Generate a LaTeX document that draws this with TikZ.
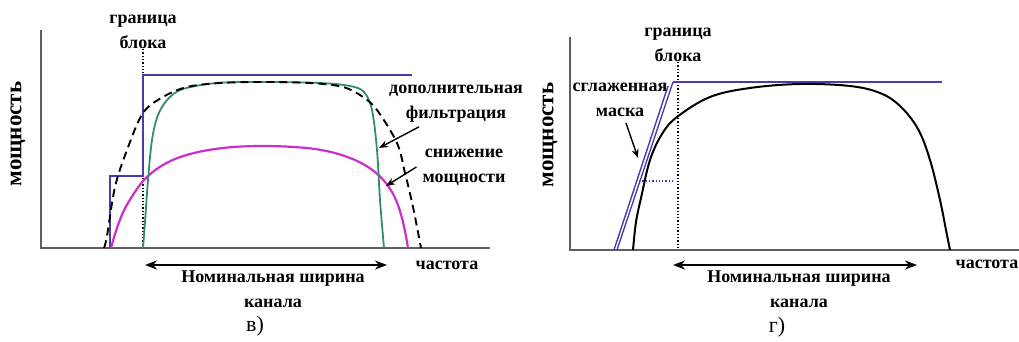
\documentclass[tikz,border=0pt]{standalone}
\usepackage{fontspec}
\setmainfont{Liberation Serif}
\usetikzlibrary{arrows.meta, positioning}
\definecolor{maskblue}{RGB}{70,60,170}
\definecolor{filtgreen}{RGB}{50,140,110}
\definecolor{powmag}{RGB}{205,45,205}
\definecolor{axisgray}{RGB}{95,95,95}

\begin{document}
\begin{tikzpicture}[
    x=1pt, y=-1pt,
    lbl/.style={font=\fontsize{18}{25}\selectfont\bfseries, align=center, inner sep=0pt},
    ylbl/.style={font=\fontsize{23}{25}\selectfont\bfseries, rotate=90, inner sep=0pt},
    tag/.style={font=\fontsize{22}{24}\selectfont, inner sep=0pt},
    axisline/.style={draw=axisgray, line width=1.6pt},
    mask/.style={draw=maskblue, line width=1.8pt},
    ptr/.style={-{Stealth[length=9pt,width=7pt]}, line width=1.4pt},
    span/.style={{Stealth[length=12pt,width=9pt]}-{Stealth[length=12pt,width=9pt]}, line width=2pt},
    edge/.style={dotted, line width=1.3pt}
]
\useasboundingbox (0,0) rectangle (1019,342);

% --- panel v) ---
\coordinate (oa) at (41,248);
\draw[axisline] (41,30) -- (oa) -- (490,248);
\node[ylbl] (pa) at (18,134) {мощность};
\node[lbl] (fa) at (447,265) {частота};
\node[lbl] (gra) at (143,32) {граница\\блока};
\draw[edge] (gra.south) -- (gra.south |- oa);
% mask with step
\draw[mask] (110,248) -- (110,176) -- (143,176) -- (143,75) -- (412,75);
% spectra
\draw[powmag, line width=2.2pt] plot[smooth, tension=0.6] coordinates {
    (111,248) (118,225) (128,203) (147,177) (175,159) (215,149) (263,146)
    (315,149) (350,158) (375,172) (392,192) (402,218) (408,248)};
\draw[filtgreen, line width=1.8pt] plot[smooth, tension=0.55] coordinates {
    (143,248) (145,222) (148,180) (152,140) (158,115) (168,99) (183,89)
    (217,83) (264,82) (320,83) (350,86) (364,92) (372,110) (377,150)
    (380,200) (384,248)};
\draw[black, line width=1.9pt, dash pattern=on 8pt off 5pt] plot[smooth, tension=0.55] coordinates {
    (104,248) (107,236) (115,187) (127,150) (143,113) (163,97) (187,87)
    (220,83) (263,82) (310,83) (343,87) (363,97) (377,110) (397,143)
    (405,173) (413,207) (421,248)};
% labels with pointers
\node[lbl] (filt) at (456,104) {дополнительная\\фильтрация};
\node[lbl] (cut) at (464,167) {снижение\\мощности};
\coordinate (filtpt) at (379,148);
\coordinate (cutpt) at (386,186);
\draw[ptr] (filt.south west) ++(30,4) -- (filtpt);
\draw[ptr] (cut.west) ++(-6,0) -- (cutpt);
% nominal width
\coordinate (wa1) at (145,265);
\coordinate (wa2) at (387,265);
\draw[span] (wa1) -- (wa2);
\node[lbl] (nwa) at (273,289) {Номинальная ширина\\канала};
\node[tag] (va) at (255,326) {в)};

% --- panel g) ---
\coordinate (ob) at (570,250);
\draw[axisline] (570,37) -- (ob) -- (1019,250);
\node[ylbl] (pb) at (550,135) {мощность};
\node[lbl] (fb) at (987,264) {частота};
\node[lbl] (grb) at (678,45) {граница\\блока};
\draw[edge] (grb.south) -- (grb.south |- ob);
% flat mask and smoothed edge
\draw[mask] (673,82) -- (942,82);
\draw[mask, line width=1.4pt] (614,250) -- (668,86);
\draw[mask, line width=1.4pt] (617,250) -- (673,82);
\draw[maskblue, edge] (639,181) -- (673,181);
% spectrum
\draw[black, line width=2pt] plot[smooth, tension=0.6] coordinates {
    (633,250) (636,222) (641,198) (650,160) (662,134) (677,117) (710,97)
    (750,88) (800,84) (850,86) (880,93) (900,106) (918,129) (930,160)
    (940,200) (946,230) (950,250)};
% label with pointer
\node[lbl] (smooth) at (620,100) {сглаженная\\маска};
\coordinate (smoothpt) at (638,158);
\draw[ptr] (smooth.south) ++(6,6) -- (smoothpt);
% nominal width
\coordinate (wb1) at (673,265);
\coordinate (wb2) at (917,265);
\draw[span] (wb1) -- (wb2);
\node[lbl] (nwb) at (799,289) {Номинальная ширина\\канала};
\node[tag] (gb) at (777,327) {г)};
\end{tikzpicture}
\end{document}
